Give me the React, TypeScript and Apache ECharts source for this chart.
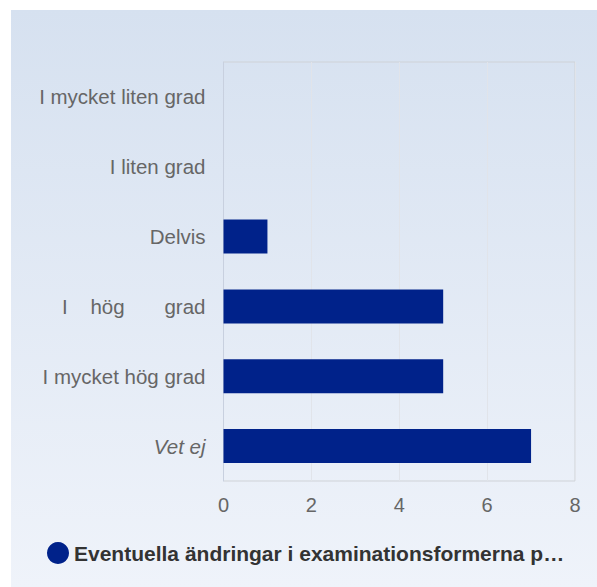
import React, { useEffect, useRef } from "react";
import * as echarts from "echarts";

const categories = ["I mycket liten grad", "I liten grad", "Delvis", "I hög grad", "I mycket hög grad", "Vet ej"];
const values = [0, 0, 1, 5, 5, 7];
const seriesName = "Eventuella ändringar i examinationsformerna p…";
const xTicks = [0, 2, 4, 6, 8];

export default function App() {
  const ref = useRef<HTMLDivElement>(null);
  useEffect(() => {
    if (!ref.current) return;
    const chart = echarts.init(ref.current, undefined, { renderer: "svg" });
    chart.setOption({
      animation: false,
      backgroundColor: {
        type: "linear", x: 0, y: 0, x2: 0, y2: 1,
        colorStops: [
          { offset: 0, color: "#d6e1f0" },
          { offset: 1, color: "#eff3fa" },
        ],
      },
      textStyle: { fontFamily: "Liberation Sans, Arial, sans-serif" },
      grid: {
        left: 212.5, top: 52, right: 22, bottom: 106,
        show: true, borderColor: "#cfd2d7", borderWidth: 1,
        containLabel: false,
      },
      legend: {
        left: 31, top: 527,
        icon: "circle", itemWidth: 22, itemHeight: 22, itemGap: 6,
        textStyle: { fontSize: 21, fontWeight: "bold", color: "#333333", fontFamily: "Liberation Sans, Arial, sans-serif" },
        data: [seriesName],
      },
      xAxis: {
        type: "value", min: xTicks[0], max: xTicks[xTicks.length - 1], interval: 2,
        axisLine: { show: false }, axisTick: { show: false },
        splitLine: { show: true, lineStyle: { color: "#e1e4ea", width: 1 } },
        axisLabel: { fontSize: 20, color: "#666666", margin: 14 },
      },
      yAxis: {
        type: "category", data: categories, inverse: true,
        axisLine: { show: true, lineStyle: { color: "#c8d0df" } },
        axisTick: { show: false },
        axisLabel: {
          fontSize: 20.5, color: "#666666", margin: 18,
          formatter: (v: string) => {
            if (v === "Vet ej") return "{i|" + v + "}";
            if (v === "I hög grad") return "I\u00a0\u00a0\u00a0\u00a0hög\u00a0\u00a0\u00a0\u00a0\u00a0\u00a0\u00a0grad";
            return v;
          },
          rich: { i: { fontStyle: "italic", fontSize: 20.5, color: "#666666" } },
        },
      },
      series: [
        {
          name: seriesName, type: "bar", data: values, barWidth: 34,
          itemStyle: { color: "#00228a", borderWidth: 0 },
        },
      ],
    });
    return () => chart.dispose();
  }, []);
  return (
    <div
      ref={ref}
      style={{ position: "absolute", left: 11, top: 10, width: 586, height: 577 }}
    />
  );
}
